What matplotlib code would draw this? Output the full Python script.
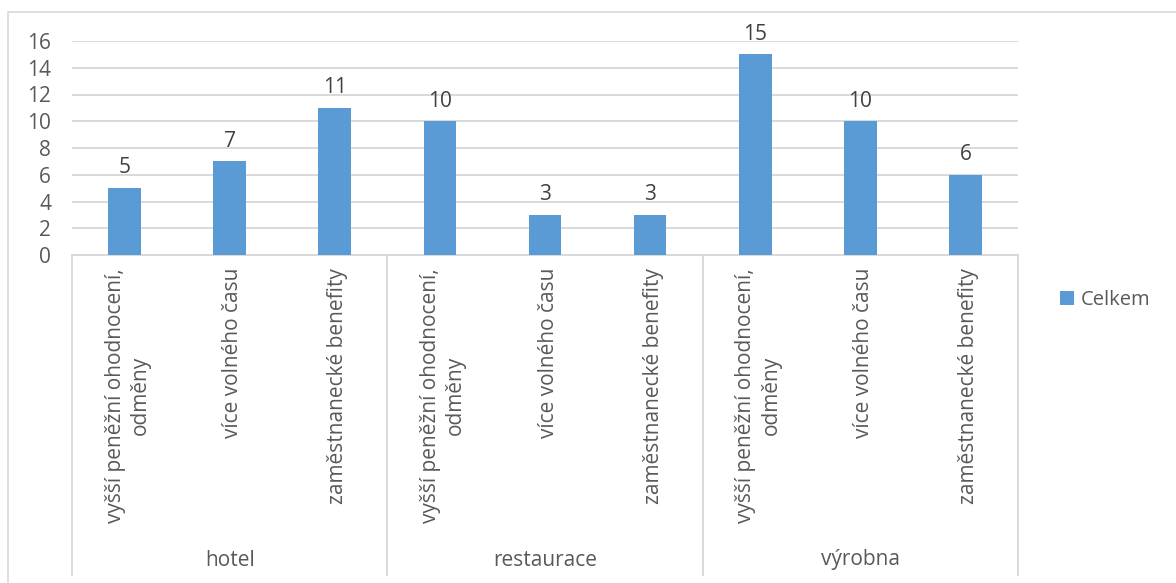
import matplotlib
matplotlib.use("Agg")
import matplotlib.pyplot as plt
from matplotlib.patches import Rectangle

groups = ["hotel", "restaurace", "výrobna"]
reasons = ["vyšší peněžní ohodnocení,\nodměny", "více volného času", "zaměstnanecké benefity"]
values = [5, 7, 11, 10, 3, 3, 15, 10, 6]
series_name = "Celkem"
yticks = [0, 2, 4, 6, 8, 10, 12, 14, 16]

BAR = "#5B9BD5"
GRID = "#D9D9D9"
TXT = "#595959"
W, H = 1176, 583
FS = 15

plt.rcParams["font.family"] = ["Open Sans", "DejaVu Sans"]

fig = plt.figure(figsize=(W / 100, H / 100), dpi=100)

# plot area in pixel coordinates
x0, x1, y0, y1 = 72, 1018, 255, 41
ax = fig.add_axes([x0 / W, 1 - y0 / H, (x1 - x0) / W, (y0 - y1) / H])

# outer chart border (only top/left visible)
fig.patches.append(Rectangle((8 / W, -0.1), 1.2, 1.1 - 12 / H, transform=fig.transFigure,
                             fill=False, edgecolor=GRID, lw=1.2))

n = len(values)
xs = list(range(n))
bars = ax.bar(xs, values, width=0.31, color=BAR, label=series_name, zorder=3)
for x, v in zip(xs, values):
    ax.annotate(str(v), (x, v), xytext=(0, 7), textcoords="offset points",
                ha="center", va="bottom", fontsize=FS, color="#404040")

ax.set_xlim(-0.5, n - 0.5)
ax.set_ylim(0, 16)
ax.set_yticks(yticks)
ax.tick_params(axis="y", length=0, pad=15, labelsize=FS, labelcolor=TXT)
ax.set_xticks([])
ax.yaxis.grid(True, color=GRID, lw=1.4, zorder=0)
ax.set_axisbelow(True)
for s in ["left", "right", "top"]:
    ax.spines[s].set_visible(False)
ax.spines["bottom"].set_color(GRID)
ax.spines["bottom"].set_linewidth(1.4)

# two-level category axis
ph = y0 - y1
def yfrac(py):
    return (y0 - py) / ph

tr = ax.get_xaxis_transform()
for i in range(n):
    ax.text(i + 0.03, yfrac(268), reasons[i % 3], transform=tr, rotation=90,
            ha="center", va="top", multialignment="center", linespacing=1.25,
            fontsize=FS, color=TXT, clip_on=False)
for g, name in enumerate(groups):
    ax.text(3 * g + 1, yfrac(560), name, transform=tr, ha="center", va="center",
            fontsize=FS, color=TXT, clip_on=False)
for b in range(len(groups) + 1):
    ax.plot([3 * b - 0.5] * 2, [0, yfrac(575)], transform=tr, color=GRID,
            lw=1.4, clip_on=False)

leg = fig.legend(handles=[bars], labels=[series_name], loc="center left",
                 bbox_to_anchor=(1042 / W, 1 - 300 / H), frameon=False,
                 fontsize=14.5, handlelength=0.7, handleheight=0.7,
                 handletextpad=0.3, labelcolor=TXT)

fig.savefig("out.png", dpi=100)
